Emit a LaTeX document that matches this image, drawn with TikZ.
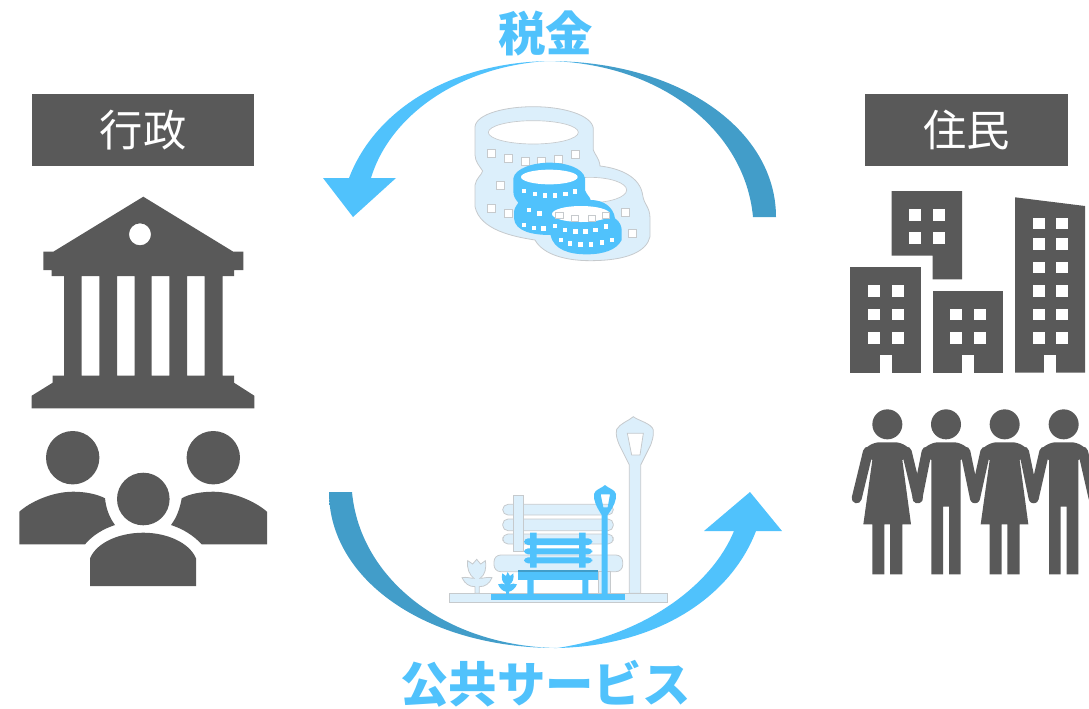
\documentclass[tikz,border=0pt]{standalone}
\usepackage{fontspec}
\newfontfamily\cjk{Noto Sans CJK JP}
\definecolor{dgray}{HTML}{595959}
\definecolor{lb}{HTML}{50C2FC}
\definecolor{db}{HTML}{429DC9}
\definecolor{pale}{HTML}{DCEFFB}
\definecolor{edgec}{HTML}{C6CACD}
\pgfdeclarehorizontalshading{topgrad}{100bp}{color(0bp)=(lb); color(49.5bp)=(lb); color(56bp)=(db); color(100bp)=(db)}
\pgfdeclarehorizontalshading{botgrad}{100bp}{color(0bp)=(db); color(44bp)=(db); color(50.5bp)=(lb); color(100bp)=(lb)}
\tikzset{
  icon/.style={fill=dgray,draw=none},
  win/.style={fill=white,draw=none},
  titlebox/.style={fill=dgray,text=white,inner sep=0pt,font=\cjk\fontsize{32.5}{33}\selectfont},
  flowlabel/.style={text=lb,inner sep=0pt,font=\cjk\bfseries\fontsize{35.5}{36}\selectfont},
  flowlabelm/.style={text=lb,inner sep=0pt,font=\cjk\bfseries\fontsize{36.3}{37}\selectfont},
  paleshape/.style={fill=pale,draw=edgec,line width=.6pt},
  paleholes/.style={fill=white,draw=edgec,line width=.5pt},
  blueshape/.style={fill=lb,draw=none},
  arm/.style={draw=dgray,line width=7.5pt,line cap=round}
}
\newcommand{\womanfig}[3]{%
  \begin{scope}[shift={(#1,0)}]
  \fill[icon] (0,73) circle (45);
  \fill[icon] (-74,165) .. controls (-72,140) and (-40,127) .. (-25,127) -- (25,127) .. controls (40,127) and (72,140) .. (74,165) -- (45,180) -- (71,373) -- (45,373) -- (45,523) -- (8,523) -- (8,373) -- (-9,373) -- (-9,523) -- (-45,523) -- (-45,373) -- (-72,373) -- (-45,180) -- cycle;
  \draw[arm] (-58,155) -- (#2,295);
  \draw[arm] (58,155) -- (#3,295);
  \end{scope}}
\newcommand{\manfig}[3]{%
  \begin{scope}[shift={(#1,0)}]
  \fill[icon] (0,73) circle (45);
  \fill[icon] (-74,165) .. controls (-72,140) and (-40,127) .. (-25,127) -- (25,127) .. controls (40,127) and (72,140) .. (74,165) -- (44,180) -- (44,523) -- (9,523) -- (9,320) -- (-9,320) -- (-9,523) -- (-44,523) -- (-44,180) -- cycle;
  \draw[arm] (-58,155) -- (#2,295);
  \draw[arm] (58,155) -- (#3,295);
  \end{scope}}
\begin{document}
\begin{tikzpicture}[x=.75pt,y=-.75pt]
\useasboundingbox (0,0) rectangle (1089,708);
\clip (0,0) rectangle (1089,708);
% titles
\node[titlebox,minimum width=166.5pt,minimum height=54pt] (gov) at (143,130) {行政};
\node[titlebox,minimum width=152.25pt,minimum height=54pt] (res) at (966.5,130) {住民};
\node[flowlabel] (tax) at (545.5,33) {税金};
\node[flowlabelm] (svc) at (545.5,684) {公共サービス};
% top arrow
\path[shading=topgrad] (776,217) .. controls (776,130) and (680,61) .. (548,61)
  .. controls (450,63) and (375,110) .. (349,178) -- (323,178) -- (353,217) -- (396,178) -- (371,178)
  .. controls (390,115) and (460,66) .. (548,61)
  .. controls (660,63) and (745,130) .. (753,217) -- cycle;
% bottom arrow
\path[shading=botgrad] (329,492) .. controls (329,579) and (425,648) .. (557,648)
  .. controls (655,646) and (730,599) .. (756,531) -- (782,531) -- (750,492) -- (704,531) -- (734,531)
  .. controls (712,585) and (645,635) .. (557,648)
  .. controls (445,646) and (360,579) .. (352,492) -- cycle;
% bank
\path[icon,even odd rule] (143.3,196.7) -- (53.3,251.7) -- (43.3,251.7) -- (43.3,270) -- (51.7,270) -- (51.7,276) -- (64,276) -- (64,375.7) -- (52.7,375.7) -- (52.7,382.7) -- (31.7,395.7) -- (31.7,408.3) -- (254.3,408.3) -- (254.3,395.7) -- (234,382.7) -- (234,375.7) -- (222.7,375.7) -- (222.7,276) -- (234,276) -- (234,270) -- (243.3,270) -- (243.3,251.7) -- (233.3,251.7) -- cycle
 (81.7,276) rectangle (99.3,375.7) (117,276) rectangle (134.7,375.7) (151.7,276) rectangle (169.3,375.7) (187,276) rectangle (204.7,375.7)
 (140,234.3) circle (11);
% officials
\fill[icon] (72.7,457.7) circle (26.7) (213.3,457.7) circle (26.7) (143.3,499) circle (26.3);
\fill[icon] (19.3,544.3) -- (19.3,511.7) .. controls (30,502) and (52,491.7) .. (73.3,491.7) .. controls (85,491.7) and (97,494) .. (105,498.3) .. controls (106,508) and (109,517) .. (115,525) .. controls (103,529) and (93,535) .. (85,544.3) -- cycle;
\fill[icon] (267,544.3) -- (267,511.7) .. controls (256,502) and (234,491.7) .. (213.3,491.7) .. controls (201,491.7) and (189,494) .. (181.7,498.3) .. controls (180,508) and (177,517) .. (171,525) .. controls (183,529) and (193,535) .. (201.7,544.3) -- cycle;
\fill[icon] (90,586) -- (90,558.3) .. controls (97,542) and (120,532.7) .. (143.3,532.7) .. controls (166,532.7) and (189,542) .. (196,558.3) -- (196,586) -- cycle;
% buildings
\fill[icon] (891.7,191) -- (962,191) -- (962,279.3) -- (932.7,279.3) -- (932.7,255.7) -- (891.7,255.7) -- cycle;
\fill[icon] (850.3,267.3) rectangle (921,372.7);
\fill[icon] (932.7,291) rectangle (1003.3,372.7);
\fill[icon] (1015,197.3) -- (1085,206) -- (1085,372.7) -- (1015,372.7) -- cycle;
\foreach \wx in {909,932.7} \foreach \wy in {209,232.3} \fill[win] (\wx,\wy) rectangle +(12,11.7);
\foreach \wx in {868,891.7} \foreach \wy in {285.3,308.7,332} \fill[win] (\wx,\wy) rectangle +(12,11.7);
\foreach \wx in {950.3,974} \foreach \wy in {308.7,332} \fill[win] (\wx,\wy) rectangle +(12,11.7);
\foreach \wx in {1032.7,1056} \foreach \wy in {217.7,238.3,261.7,285.3,308.7,332} \fill[win] (\wx,\wy) rectangle +(12,11.7);
\foreach \wx in {880,962,1044.3} \fill[win] (\wx,355) rectangle +(11.7,17.7);
% people row
\begin{scope}[shift={(840,400)},x=.25pt,y=-.25pt]
\womanfig{142}{-92}{92}
\manfig{318}{-86}{87}
\womanfig{494}{-89}{87}
\manfig{671}{-90}{90}
\end{scope}
% coins
\begin{scope}[shift={(440,90)},x=.25pt,y=-.25pt]
\path[paleshape] (105,110) .. controls (110,70) and (200,50) .. (280,50) .. controls (370,50) and (455,75) .. (460,115) -- (460,180) .. controls (465,195) and (478,205) .. (480,228) .. controls (540,235) and (600,260) .. (608,315) .. controls (612,345) and (630,350) .. (630,385) -- (630,440) .. controls (620,485) and (560,512) .. (450,512) .. controls (380,512) and (310,495) .. (285,450) .. controls (220,440) and (120,420) .. (105,350) -- (105,285) .. controls (108,265) and (125,255) .. (128,243) .. controls (120,230) and (105,215) .. (105,195) -- cycle;
\path[paleholes] (280,127) ellipse (135 and 35);
\path[paleholes] (450,300) ellipse (110 and 38);
\foreach \cx/\cy in {155/190,205/206,255/213,305/213,355/207,405/192,180/286,155/355,205/369,555/368,578/430}
  \path[paleholes] (\cx-12,\cy-12) rectangle +(24,24);
\fill[blueshape] (220,265) .. controls (225,235) and (280,218) .. (328,218) .. controls (380,218) and (430,235) .. (435,265) -- (435,300) .. controls (440,315) and (450,320) .. (452,330) .. controls (490,330) and (520,350) .. (525,385) .. controls (540,395) and (545,410) .. (545,420) -- (545,450) .. controls (530,480) and (490,493) .. (440,493) .. controls (390,493) and (340,480) .. (332,435) .. controls (280,435) and (225,425) .. (222,385) -- (222,365) .. controls (224,350) and (232,345) .. (235,338) .. controls (228,330) and (220,320) .. (220,305) -- cycle;
\fill[white] (328,261) ellipse (85 and 22);
\fill[white] (423,372) ellipse (87 and 24);
\foreach \cx/\cy in {358/376,405/385,455/385,497/376}
  \path[paleholes] (\cx-11,\cy-8) rectangle +(22,16);
\foreach \cx/\cy in {252/303,284/312,314/316,345/316,376/312,405/304,267/360,298/370,252/405,282/414,310/416,345/408,375/420,406/424,436/424,466/420,497/410,362/450,390/460,421/463,453/463,485/458,515/450}
  \fill[win] (\cx-6,\cy-7) rectangle +(13,14);
\end{scope}
% bench
\begin{scope}[shift={(430,400)},x=.25pt,y=-.25pt]
% big lamp
\path[paleshape,even odd rule] (610,50) .. controls (625,62) and (665,70) .. (670,90) .. controls (672,110) and (665,125) .. (662,135) -- (632,195) -- (632,580) -- (598,580) -- (598,195) -- (568,135) .. controls (562,120) and (556,105) .. (560,88) .. controls (570,70) and (597,62) .. (610,50) -- cycle
 (592,100) -- (640,100) -- (630,165) -- (605,165) -- cycle;
% pale bench
\foreach \sy/\sh in {313/32,357/35,402/30}
  \path[paleshape,rounded corners=4pt] (218,\sy) rectangle +(332,\sh);
\path[paleshape] (250,285) rectangle (280,455);
\fill[pale] (251,314) rectangle (279,432);
\path[paleshape,rounded corners=5pt] (192,465) rectangle (578,515);
\path[paleshape] (505,515) rectangle (540,580);
% ground
\path[paleshape] (57,580) rectangle (712,607);
% pale tulip
\path[paleshape] (113,482) -- (128,492) -- (140,478) -- (152,492) -- (166,482) .. controls (170,505) and (165,525) .. (150,535) .. controls (160,535) and (175,530) .. (186,533) .. controls (178,552) and (165,560) .. (148,560) -- (148,580) -- (135,580) -- (135,560) .. controls (118,560) and (105,552) .. (96,533) .. controls (108,530) and (122,535) .. (132,535) .. controls (118,525) and (110,505) .. (113,482) -- cycle;
% blue ground and bench
\fill[blueshape] (182,582) rectangle (585,601);
\foreach \sy/\sh in {415/20,445/18,472/18}
  \fill[blueshape,rounded corners=3pt] (282,\sy) rectangle +(205,\sh);
\fill[blueshape] (300,398) rectangle (320,503) (447,398) rectangle (467,503);
\fill[db] (265,511) rectangle (503,516);
\fill[blueshape] (265,515) rectangle (503,540);
\fill[blueshape] (292,540) rectangle (311,582) (457,540) rectangle (475,582);
% small lamp
\path[blueshape,even odd rule] (525,255) .. controls (535,265) and (555,268) .. (558,282) .. controls (560,300) and (552,318) .. (533,345) -- (533,582) -- (515,582) -- (515,345) .. controls (498,318) and (490,300) .. (492,282) .. controls (495,268) and (515,265) .. (525,255) -- cycle
 (512,283) -- (540,283) -- (533,322) -- (520,322) -- cycle;
% blue flower
\fill[blueshape] (217,520) -- (228,528) -- (233,516) -- (240,528) -- (250,520) .. controls (253,535) and (248,548) .. (238,554) .. controls (245,550) and (254,550) .. (261,553) .. controls (255,566) and (246,573) .. (237,575) -- (237,582) -- (228,582) -- (228,575) .. controls (218,573) and (210,566) .. (204,553) .. controls (212,550) and (220,550) .. (227,554) .. controls (217,548) and (213,535) .. (217,520) -- cycle;
\end{scope}
\end{tikzpicture}
\end{document}
